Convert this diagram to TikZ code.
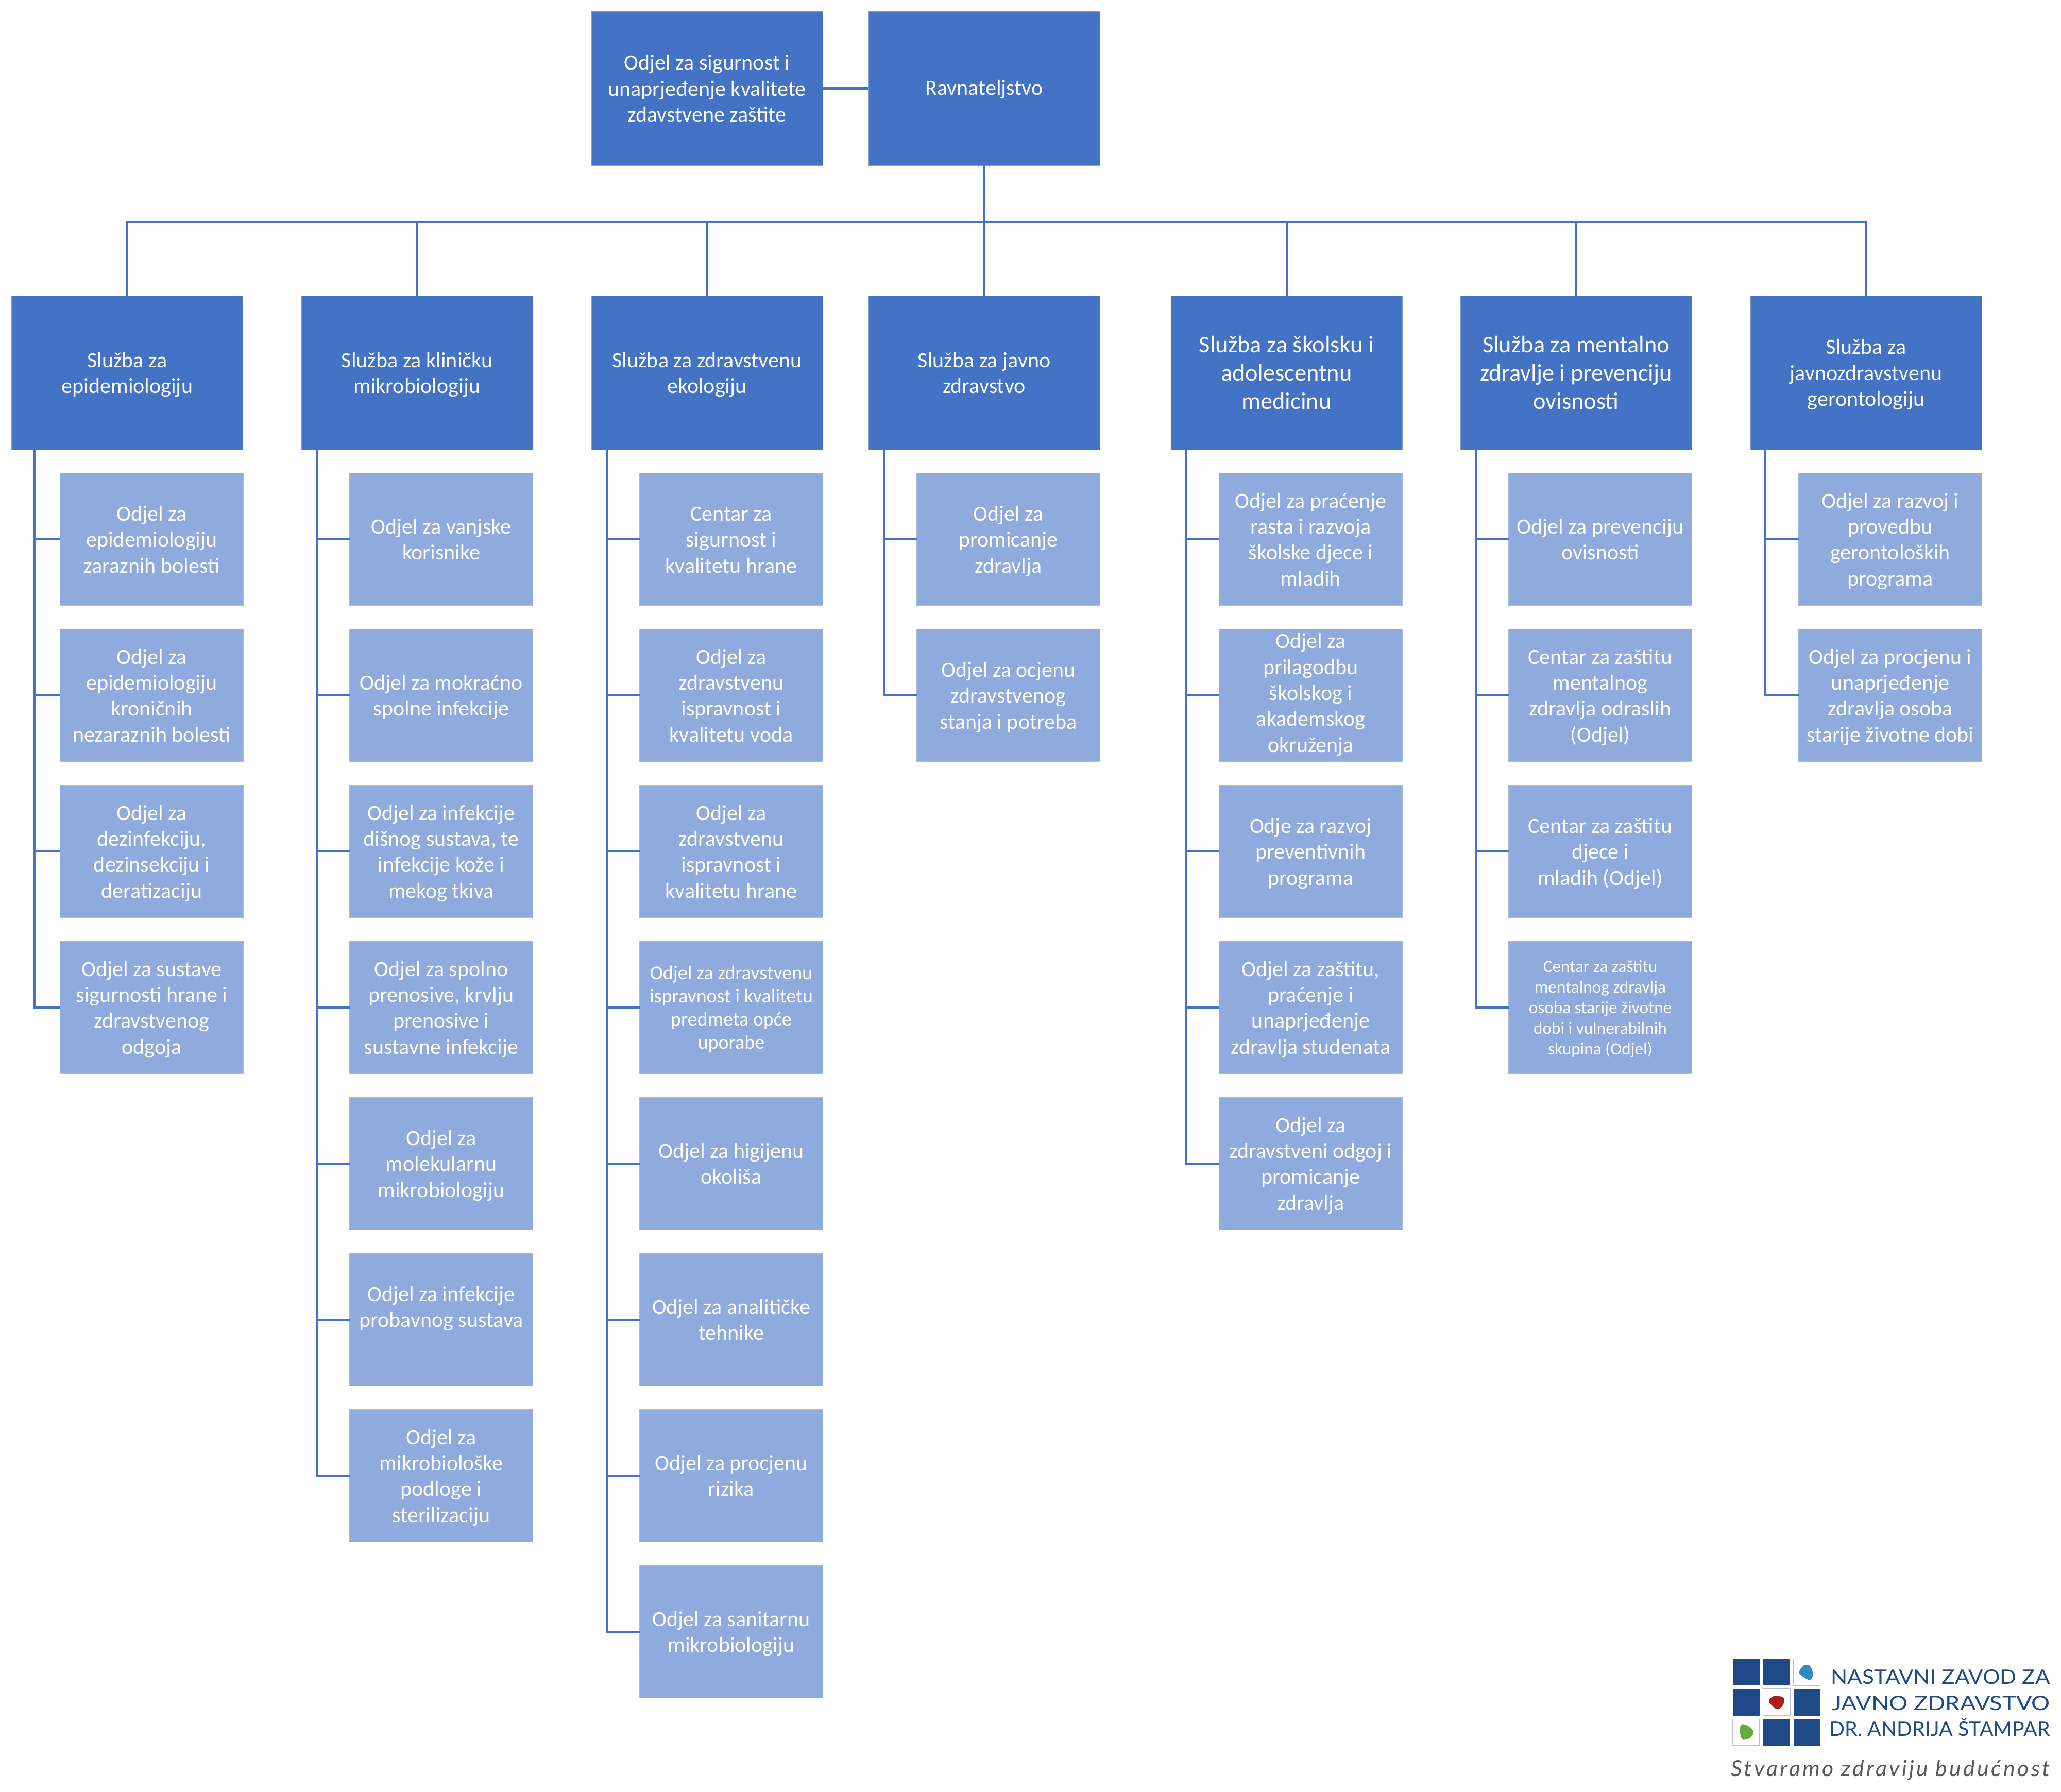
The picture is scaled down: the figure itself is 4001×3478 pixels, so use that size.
\documentclass[tikz,border=0pt]{standalone}
\usepackage{fontspec}
\setmainfont{Carlito}
\newfontfamily\logofont{Lato}
\newfontfamily\slogfont[LetterSpace=10]{Lato}
\usetikzlibrary{calc}
\definecolor{dark}{HTML}{4472C4}
\definecolor{light}{HTML}{8FAADC}
\definecolor{logoblue}{HTML}{1F4A87}
\definecolor{logoframe}{HTML}{B9BDE2}
\newlength\pxu
\setlength\pxu{0.01cm}
\newcommand\T{\rule{0pt}{1.1em}}
\tikzset{
  x=0.01cm,y=-0.01cm,
  basebox/.style={inner sep=0pt,outer sep=0pt,align=center,text=white,line width=0.25pt,
    execute at end node={\rule[-0.4em]{0pt}{0.4em}}},
  head/.style={basebox,fill=dark,draw=dark!70!white,minimum width=449\pxu,minimum height=299\pxu,font=\fontsize{11.95}{14.3}\selectfont},
  headbig/.style={head,font=\fontsize{13.2}{15.6}\selectfont},
  kid/.style={basebox,fill=light,draw=light!80!white,minimum width=356\pxu,minimum height=257\pxu,font=\fontsize{11.95}{14.3}\selectfont},
  kidfull/.style={kid,execute at end node={}},
  kidsmall/.style={kid,font=\fontsize{10.8}{12.8}\selectfont},
  kidtiny/.style={kid,font=\fontsize{9.45}{11.4}\selectfont},
  conn/.style={draw=dark,line width=1.15pt},
  logotext/.style={inner sep=0pt,outer sep=0pt,anchor=base east,text=logoblue,font=\logofont\fontsize{11}{13}\selectfont},
  logocell/.style={fill=logoblue},
  logoframed/.style={fill=white,draw=logoframe,line width=0.4pt},
}
\begin{document}
\begin{tikzpicture}
\useasboundingbox (0,0) rectangle (4001,3478);
% top
\node[head] (s) at (1372.5,171.5) {\T Odjel za sigurnost i\\unaprjeđenje kvalitete\\zdavstvene zaštite};
\node[head] (r) at (1910.5,171.5) {\rule{0pt}{1em}Ravnateljstvo};
% heads
\node[head] (b1) at (247,723.5) {\T Služba za\\epidemiologiju};
\node[head] (b2) at (809.5,723.5) {\T Služba za kliničku\\mikrobiologiju};
\node[head] (b3) at (1372.5,723.5) {\T Služba za zdravstvenu\\ekologiju};
\node[head] (b4) at (1910.5,723.5) {\T Služba za javno\\zdravstvo};
\node[headbig] (b5) at (2497.5,723.5) {\T Služba za školsku i\\adolescentnu\\medicinu};
\node[headbig] (b6) at (3059.5,723.5) {\T Služba za mentalno\\zdravlje i prevenciju\\ovisnosti};
\node[head] (b7) at (3622.5,723.5) {\T Služba za\\javnozdravstvenu\\gerontologiju};
% col 1
\node[kid] (c11) at (294.5,1047) {\T Odjel za\\epidemiologiju\\zaraznih bolesti};
\node[kid] (c12) at (294.5,1350) {\T Odjel za\\epidemiologiju\\kroničnih\\nezaraznih bolesti};
\node[kid] (c13) at (294.5,1653) {\T Odjel za\\dezinfekciju,\\dezinsekciju i\\deratizaciju};
\node[kid] (c14) at (294.5,1956) {\T Odjel za sustave\\sigurnosti hrane i\\zdravstvenog\\odgoja};
% col 2
\node[kid] (c21) at (856.5,1047) {\T Odjel za vanjske\\korisnike};
\node[kid] (c22) at (856.5,1350) {\T Odjel za mokraćno\\spolne infekcije};
\node[kid] (c23) at (856.5,1653) {\T Odjel za infekcije\\dišnog sustava, te\\infekcije kože i\\mekog tkiva};
\node[kid] (c24) at (856.5,1956) {\T Odjel za spolno\\prenosive, krvlju\\prenosive i\\sustavne infekcije};
\node[kid] (c25) at (856.5,2259) {\T Odjel za\\molekularnu\\mikrobiologiju};
\node[kid] (c26) at (856.5,2562) {\T Odjel za infekcije\\probavnog sustava\\\mbox{}};
\node[kid] (c27) at (856.5,2865) {\T Odjel za\\mikrobiološke\\podloge i\\sterilizaciju};
% col 3
\node[kid] (c31) at (1419.5,1047) {\T Centar za\\sigurnost i\\kvalitetu hrane};
\node[kid] (c32) at (1419.5,1350) {\T Odjel za\\zdravstvenu\\ispravnost i\\kvalitetu voda};
\node[kid] (c33) at (1419.5,1653) {\T Odjel za\\zdravstvenu\\ispravnost i\\kvalitetu hrane};
\node[kidsmall] (c34) at (1419.5,1956) {\T Odjel za zdravstvenu\\ispravnost i kvalitetu\\predmeta opće\\uporabe};
\node[kid] (c35) at (1419.5,2259) {\T Odjel za higijenu\\okoliša};
\node[kid] (c36) at (1419.5,2562) {\T Odjel za analitičke\\tehnike};
\node[kid] (c37) at (1419.5,2865) {\T Odjel za procjenu\\rizika};
\node[kid] (c38) at (1419.5,3168) {\T Odjel za sanitarnu\\mikrobiologiju};
% col 4
\node[kid] (c41) at (1957.5,1047) {\T Odjel za\\promicanje\\zdravlja};
\node[kid] (c42) at (1957.5,1350) {\T Odjel za ocjenu\\zdravstvenog\\stanja i potreba};
% col 5
\node[kid] (c51) at (2544.5,1047) {\T Odjel za praćenje\\rasta i razvoja\\školske djece i\\mladih};
\node[kidfull] (c52) at (2544.5,1350) {\rule{0pt}{0.85em}Odjel za\\prilagodbu\\školskog i\\akademskog\\okruženja};
\node[kid] (c53) at (2544.5,1653) {\T Odje za razvoj\\preventivnih\\programa};
\node[kid] (c54) at (2544.5,1956) {\T Odjel za zaštitu,\\praćenje i\\unaprjeđenje\\zdravlja studenata};
\node[kid] (c55) at (2544.5,2259) {\T Odjel za\\zdravstveni odgoj i\\promicanje\\zdravlja};
% col 6
\node[kid] (c61) at (3106.5,1047) {\T Odjel za prevenciju\\ovisnosti};
\node[kid] (c62) at (3106.5,1350) {\T Centar za zaštitu\\mentalnog\\zdravlja odraslih\\(Odjel)};
\node[kid] (c63) at (3106.5,1653) {\T Centar za zaštitu\\djece i\\mladih (Odjel)};
\node[kidtiny] (c64) at (3106.5,1956) {\T Centar za zaštitu\\mentalnog zdravlja\\osoba starije životne\\dobi i vulnerabilnih\\skupina (Odjel)};
% col 7
\node[kid] (c71) at (3669.5,1047) {\T Odjel za razvoj i\\provedbu\\gerontoloških\\programa};
\node[kid] (c72) at (3669.5,1350) {\T Odjel za procjenu i\\unaprjeđenje\\zdravlja osoba\\starije životne dobi};
% connectors
\draw[conn] (s) -- (r);
\coordinate (bus) at ($(r.south)+(0,110)$);
\draw[conn] (r.south) -- (bus);
\foreach \h in {b1,b2,b3,b4,b5,b6,b7}
  \draw[conn] (bus) -| (\h.north);
\foreach \h/\off/\kids in {b1/44/{c11,c12,c13,c14},b2/31/{c21,c22,c23,c24,c25,c26,c27},b3/31/{c31,c32,c33,c34,c35,c36,c37,c38},b4/31/{c41,c42},b5/29/{c51,c52,c53,c54,c55},b6/31/{c61,c62,c63,c64},b7/29/{c71,c72}}
  \foreach \k in \kids
    \draw[conn] ($(\h.south west)+(\off,0)$) |- (\k.west);
% logo
\foreach \xa/\ya/\xb/\yb in {3363.5/3220.7/3415.8/3272.3,3422.5/3220.7/3474.8/3272.3,3363.5/3279/3415.8/3330.7,3481.5/3279/3533.4/3330.7,3422.5/3337.7/3474.8/3389,3481.5/3337.7/3533.4/3389}
  \fill[logocell] (\xa,\ya) rectangle (\xb,\yb);
\draw[logoframed] (3481.5,3220.7) rectangle (3533.4,3272.3);
\draw[logoframed] (3422.5,3279) rectangle (3474.8,3330.7);
\draw[logoframed] (3363.5,3337.7) rectangle (3415.8,3389);
\fill[fill={rgb,255:red,46;green,140;blue,190}] plot[smooth cycle,tension=0.8] coordinates {(3506,3232) (3514,3235) (3519,3248) (3517,3258) (3511,3261) (3502,3256) (3493,3248) (3498,3237)};
\fill[fill={rgb,255:red,174;green,28;blue,30}] plot[smooth cycle,tension=0.8] coordinates {(3441,3294) (3452,3293) (3462,3296) (3463,3306) (3456,3316) (3449,3318) (3441,3312) (3434,3303)};
\fill[fill={rgb,255:red,105;green,170;blue,60}] plot[smooth cycle,tension=0.8] coordinates {(3380,3349) (3390,3349) (3400,3356) (3404,3363) (3399,3372) (3388,3377) (3381,3375) (3378,3362)};
\node[logotext] (l1) at (3979.5,3269.3) {\scalebox{1.09}[1]{NASTAVNI ZAVOD ZA}};
\node[logotext] (l2) at (3979.5,3320) {\scalebox{1.165}[1]{JAVNO ZDRAVSTVO}};
\node[logotext] (l3) at (3979.5,3370.7) {\scalebox{1.02}[1]{DR. ANDRIJA ŠTAMPAR}};
\node[inner sep=0pt,outer sep=0pt,anchor=base east,text=black!65,font=\slogfont\itshape\fontsize{12.2}{14}\selectfont] (sl) at (3979.5,3448) {Stvaramo zdraviju budućnost};
\end{tikzpicture}
\end{document}
